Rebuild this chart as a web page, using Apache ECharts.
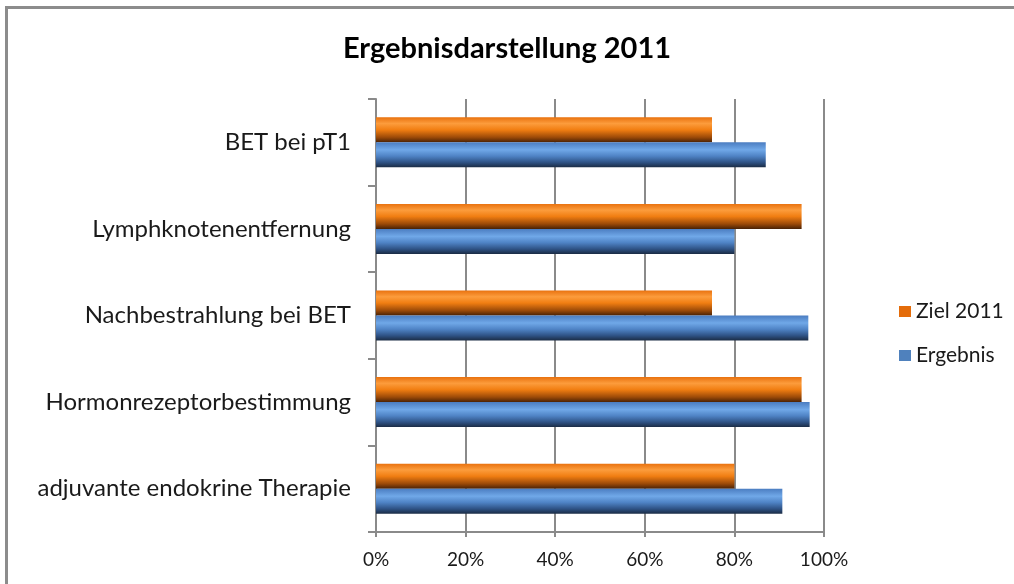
<!DOCTYPE html>
<html>
<head>
<meta charset="utf-8">
<script src="https://cdn.jsdelivr.net/npm/echarts@6/dist/echarts.min.js"></script>
<style>
  html, body { margin: 0; padding: 0; background: #fff; }
  #frame { position: absolute; left: 5px; top: 6px; width: 1020px; height: 600px;
           border-top: 3px solid #8c8c8c; border-left: 3px solid #8c8c8c; }
  #main { position: absolute; left: 0; top: 0; width: 1014px; height: 584px; }
</style>
</head>
<body>
<div id="frame"></div>
<div id="main"></div>
<script>
var myChart = echarts.init(document.getElementById('main'));

// von unten nach oben (wie in der Kategorieachse)
var kategorien = ['adjuvante endokrine Therapie', 'Hormonrezeptorbestimmung', 'Nachbestrahlung bei BET', 'Lymphknotenentfernung', 'BET bei pT1'];
var ergebnis = [90.7, 96.8, 96.5, 80, 87];
var ziel2011 = [80, 95, 75, 95, 75];
var xTicks = [0, 20, 40, 60, 80, 100];

var fontName = 'Lato, "Open Sans", sans-serif';

function grad(stops) {
  return new echarts.graphic.LinearGradient(0, 0, 0, 1, stops);
}

var orangeGrad = grad([
  {offset: 0, color: '#e9720f'},
  {offset: 0.25, color: '#fc9c3c'},
  {offset: 0.5, color: '#f17e12'},
  {offset: 0.8, color: '#9c4a08'},
  {offset: 1, color: '#4a2205'}
]);
var blueGrad = grad([
  {offset: 0, color: '#4b7dc1'},
  {offset: 0.3, color: '#70a8e8'},
  {offset: 0.55, color: '#4f83c5'},
  {offset: 0.8, color: '#2f5386'},
  {offset: 1, color: '#1b2c45'}
]);

option = {
  animation: false,
  title: {
    text: 'Ergebnisdarstellung 2011',
    left: 'center',
    top: 29,
    textStyle: {fontFamily: fontName, fontSize: 29, fontWeight: 'bold', color: '#000'}
  },
  legend: {
    orient: 'vertical',
    left: 894,
    top: 296,
    itemWidth: 12,
    itemHeight: 11,
    itemGap: 23,
    icon: 'rect',
    textStyle: {fontFamily: fontName, fontSize: 21, color: '#1a1a1a'},
    data: [
      {name: 'Ziel 2011', itemStyle: {color: '#e46c0a'}},
      {name: 'Ergebnis', itemStyle: {color: '#4f81bd'}}
    ]
  },
  grid: {left: 376, right: 190, top: 99, bottom: 52},
  xAxis: {
    type: 'value',
    min: 0,
    max: 100,
    interval: 20,
    axisLine: {show: true, lineStyle: {color: '#8a8a8a', width: 2}},
    axisTick: {show: true, length: 5, lineStyle: {color: '#8a8a8a', width: 2}},
    splitLine: {lineStyle: {color: '#8a8a8a', width: 2}},
    axisLabel: {
      fontFamily: fontName, fontSize: 19, color: '#1a1a1a', margin: 18,
      formatter: function (v) { return xTicks.indexOf(v) >= 0 ? v + '%' : ''; }
    }
  },
  yAxis: {
    type: 'category',
    data: kategorien,
    axisLine: {lineStyle: {color: '#8a8a8a', width: 2}},
    axisTick: {show: true, length: 8, lineStyle: {color: '#8a8a8a', width: 2}},
    axisLabel: {fontFamily: fontName, fontSize: 24, color: '#1a1a1a', margin: 25}
  },
  series: [
    {
      name: 'Ziel 2011',
      type: 'bar',
      data: ziel2011,
      barWidth: 25,
      barGap: '0%',
      itemStyle: {color: orangeGrad}
    },
    {
      name: 'Ergebnis',
      type: 'bar',
      data: ergebnis,
      barWidth: 25,
      barGap: '0%',
      itemStyle: {color: blueGrad}
    }
  ]
};

myChart.setOption(option);
</script>
</body>
</html>
